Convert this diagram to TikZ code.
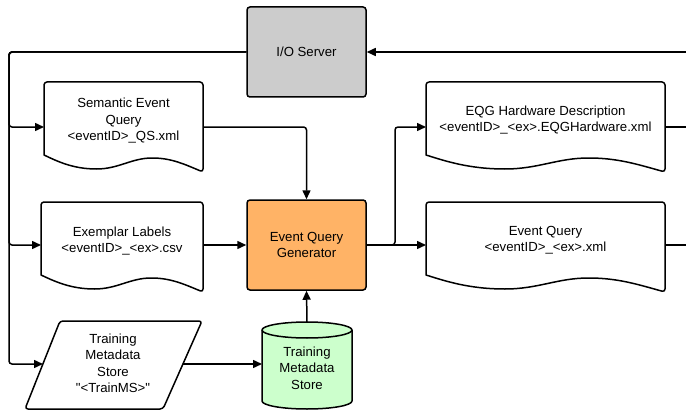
\documentclass[tikz,border=0pt]{standalone}
\usepackage{fontspec}
\newfontfamily\lsans{Liberation Sans}
\usetikzlibrary{arrows.meta}
\definecolor{iogray}{HTML}{CCCCCC}
\definecolor{eqgorange}{HTML}{FFB366}
\definecolor{storegreen}{HTML}{CCFFCC}
\newcommand\mydocshape[4]{%
  \draw[shapeline, fill=white, rounded corners=3pt]
    (#1,#4) -- (#1,#3) -- (#2,#3) -- (#2,{#4+17})
    [sharp corners]
    .. controls ({#1+0.88*(#2-#1)},{#4+9}) and ({#1+0.8*(#2-#1)},{#4+3}) .. ({#1+0.68*(#2-#1)},{#4+3})
    .. controls ({#1+0.55*(#2-#1)},{#4+3}) and ({#1+0.47*(#2-#1)},{#4+14}) .. ({#1+0.33*(#2-#1)},{#4+14})
    .. controls ({#1+0.18*(#2-#1)},{#4+14}) and ({#1+0.08*(#2-#1)},{#4+6}) .. (#1,#4) -- cycle;}
\begin{document}
\begin{tikzpicture}[x=1pt,y=-1pt,
  line/.style={line width=1.5pt, rounded corners=3pt},
  arr/.style={line, -{Triangle[length=9pt,width=8pt]}},
  shapeline/.style={line width=1.5pt, line join=round},
  lbl/.style={font=\lsans\fontsize{13.2}{16.5}\selectfont, align=center, inner sep=0pt},
  box/.style={lbl, draw, line width=1.5pt, rounded corners=3pt, minimum width=119pt, minimum height=90pt},
]
\useasboundingbox (0,0) rectangle (686,412);

% boxes
\node[box, fill=iogray] (io) at (306.5,52) {I/O Server};
\node[box, fill=eqgorange] (eqg) at (306.5,245) {Event Query\\Generator};

% documents
\mydocshape{44}{203}{82}{155}
\node[lbl] (sem) at (123.5,121) {Semantic Event\\Query\\<eventID>\_QS.xml};
\mydocshape{41}{203}{202}{275}
\node[lbl] (exl) at (122,241) {Exemplar Labels\\<eventID>\_<ex>.csv};
\mydocshape{426}{665}{82}{155}
\node[lbl] (hw) at (545.5,120) {EQG Hardware Description\\<eventID>\_<ex>.EQGHardware.xml};
\mydocshape{426}{665}{202}{275}
\node[lbl] (evq) at (545.5,240) {Event Query\\<eventID>\_<ex>.xml};

% parallelogram
\draw[shapeline, fill=white, rounded corners=3pt] (60,321) -- (202,321) -- (163,409) -- (25,409) -- cycle;
\node[lbl] (par) at (113,363.5) {Training\\Metadata\\Store\\"<TrainMS>"};

% cylinder
\draw[shapeline, fill=storegreen] (262,330) -- (262,401)
  arc[start angle=180, end angle=0, x radius=45, y radius=8] -- (352,330)
  arc[start angle=0, end angle=-180, x radius=45, y radius=8] -- cycle;
\draw[shapeline] (262,330) arc[start angle=180, end angle=0, x radius=45, y radius=8];
\node[lbl] (cyl) at (307,368) {Training\\Metadata\\Store};

% connection points
\coordinate (rightIn) at (686,52);
\coordinate (railTop) at (9,52);
\coordinate (semIn) at (44,127);
\coordinate (semOut) at (203,127);
\coordinate (exIn) at (41,245);
\coordinate (exOut) at (203,245);
\coordinate (parIn) at (43,364);
\coordinate (parOut) at (183,364);
\coordinate (cylTop) at (307,322);
\coordinate (cylIn) at (262,364);
\coordinate (split) at (395,245);
\coordinate (hwIn) at (426,127);
\coordinate (hwOut) at (665,127);
\coordinate (hwEnd) at (686,127);
\coordinate (eqIn) at (426,245);
\coordinate (eqOut) at (665,245);
\coordinate (eqEnd) at (686,245);

% connectors
\draw[arr] (rightIn) -- (io.east);
\draw[arr] (io.west) -- (railTop) |- (semIn);
\draw[arr] (io.west) -- (railTop) |- (exIn);
\draw[arr] (io.west) -- (railTop) |- (parIn);
\draw[arr] (semOut) -| (eqg.north);
\draw[arr] (exOut) -- (eqg.west);
\draw[arr] (cylTop) -- (eqg.south);
\draw[arr] (parOut) -- (cylIn);
\draw[arr] (eqg.east) -- (split) |- (hwIn);
\draw[arr] (eqg.east) -- (eqIn);
\draw[line] (hwOut) -- (hwEnd);
\draw[line] (eqOut) -- (eqEnd);
\end{tikzpicture}
\end{document}
